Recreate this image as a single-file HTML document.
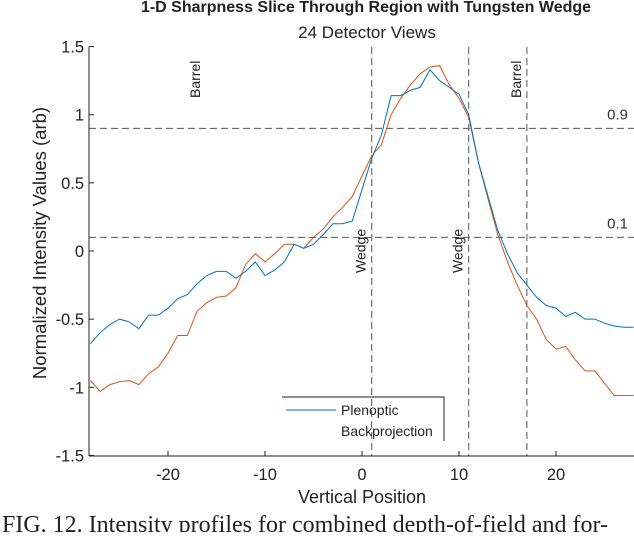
<!DOCTYPE html>
<html><head><meta charset="utf-8"><style>
body{margin:0;background:#fff;width:634px;height:532px;overflow:hidden}
text{font-family:"Liberation Sans",Arial,sans-serif}
</style></head><body>
<svg id="chart" width="634" height="532" viewBox="0 0 634 532" xmlns="http://www.w3.org/2000/svg">
<text x="366" y="12" font-size="16" font-weight="bold" text-anchor="middle" fill="#222">1-D Sharpness Slice Through Region with Tungsten Wedge</text>
<text x="367" y="38" font-size="17" text-anchor="middle" fill="#222">24 Detector Views</text>
<g id="grid"></g><g id="series"></g><g id="axes"></g>
<text transform="translate(46,243) rotate(-90)" font-size="18.5" text-anchor="middle" fill="#222">Normalized Intensity Values (arb)</text>
<text x="362" y="503" font-size="18" text-anchor="middle" fill="#222">Vertical Position</text>
<g>
<path d="M282 397 H444 V441" fill="none" stroke="#222" stroke-width="1"/>
<line x1="286" y1="410" x2="336" y2="410" stroke="#0072bd" stroke-width="1"/>
<text x="341" y="415" font-size="14" fill="#222">Plenoptic</text>
<text x="341" y="436" font-size="14" fill="#222">Backprojection</text>
</g>
<text x="2" y="532" font-size="24" fill="#222" style="font-family:'Liberation Serif',serif">FIG. 12. Intensity profiles for combined depth-of-field and for-</text>
</svg>
<script>
const xs=[-28,-27,-26,-25,-24,-23,-22,-21,-20,-19,-18,-17,-16,-15,-14,-13,-12,-11,-10,-9,-8,-7,-6,-5,-4,-3,-2,-1,0,1,2,3,4,5,6,7,8,9,10,11,12,13,14,15,16,17,18,19,20,21,22,23,24,25,26,27,28];
const plenoptic=[-0.68,-0.6,-0.54,-0.5,-0.52,-0.57,-0.47,-0.47,-0.42,-0.35,-0.32,-0.24,-0.18,-0.15,-0.15,-0.2,-0.15,-0.08,-0.18,-0.14,-0.08,0.05,0.02,0.05,0.12,0.2,0.2,0.22,0.45,0.68,0.85,1.14,1.14,1.18,1.2,1.33,1.25,1.2,1.15,1.0,0.65,0.4,0.15,-0.02,-0.16,-0.25,-0.34,-0.4,-0.42,-0.48,-0.45,-0.5,-0.5,-0.53,-0.55,-0.56,-0.56];
const backprojection=[-0.95,-1.03,-0.98,-0.96,-0.95,-0.98,-0.9,-0.85,-0.75,-0.62,-0.62,-0.44,-0.38,-0.34,-0.33,-0.27,-0.1,-0.02,-0.08,-0.02,0.05,0.05,0.02,0.1,0.16,0.25,0.32,0.4,0.55,0.7,0.78,1.0,1.12,1.22,1.3,1.35,1.36,1.22,1.12,0.98,0.65,0.38,0.12,-0.08,-0.25,-0.4,-0.5,-0.65,-0.72,-0.7,-0.8,-0.88,-0.88,-0.97,-1.06,-1.06,-1.06];
const xTicks=[-20,-10,0,10,20];
const yTicks=[1.5,1,0.5,0,-0.5,-1,-1.5];
const vLines=[1,11,17];
const vLabels=["Wedge","Wedge","Barrel"];
const hLines=[0.9,0.1];
const X=v=>362+v*9.7, Y=v=>251-v*136.3;
const NS="http://www.w3.org/2000/svg";
function mk(tag,attrs,parent){const e=document.createElementNS(NS,tag);for(const k in attrs)e.setAttribute(k,attrs[k]);parent.appendChild(e);return e;}
const grid=document.getElementById('grid'),series=document.getElementById('series'),axes=document.getElementById('axes');
hLines.forEach(v=>{const l=mk('line',{x1:89,x2:634,y1:Y(v),y2:Y(v),stroke:'#555','stroke-dasharray':'7,4','stroke-width':1},grid);


const t=mk('text',{x:628,y:Y(v)-9,'font-size':15,'text-anchor':'end',fill:'#333'},grid);t.textContent=v;

});
vLines.forEach((v,i)=>{const l=mk('line',{x1:X(v),x2:X(v),y1:47,y2:456,stroke:'#555','stroke-dasharray':'7,4','stroke-width':1},grid);


const isB=vLabels[i]==="Barrel";
const t=mk('text',{transform:`translate(${X(v)-6},${isB?98:273}) rotate(-90)`,'font-size':14,fill:'#222'},grid);t.textContent=vLabels[i];

});
const t0=mk('text',{transform:`translate(200,98) rotate(-90)`,'font-size':14,fill:'#222'},grid);t0.textContent="Barrel";


function path(vals,color,name){const d=vals.map((v,i)=>{let x=Math.min(634,X(xs[i]));return (i?'L':'M')+x.toFixed(1)+' '+Y(v).toFixed(1);}).join(' ');
const p=mk('path',{d:d,fill:'none',stroke:color,'stroke-width':1},series);

}
path(backprojection,'#d95319','backprojection-line');
path(plenoptic,'#0072bd','plenoptic-line');
mk('line',{x1:89,x2:89,y1:47,y2:456,stroke:'#222'},axes);
mk('line',{x1:89,x2:634,y1:456,y2:456,stroke:'#222'},axes);
yTicks.forEach(v=>{mk('line',{x1:89,x2:94,y1:Y(v),y2:Y(v),stroke:'#222'},axes);
const t=mk('text',{x:84,y:Y(v)+6,'font-size':16.5,'text-anchor':'end',fill:'#222'},axes);t.textContent=v;

});
xTicks.forEach(v=>{mk('line',{x1:X(v),x2:X(v),y1:456,y2:451,stroke:'#222'},axes);
const t=mk('text',{x:X(v),y:480,'font-size':16.5,'text-anchor':'middle',fill:'#222'},axes);t.textContent=v;

});
</script>
</body></html>
